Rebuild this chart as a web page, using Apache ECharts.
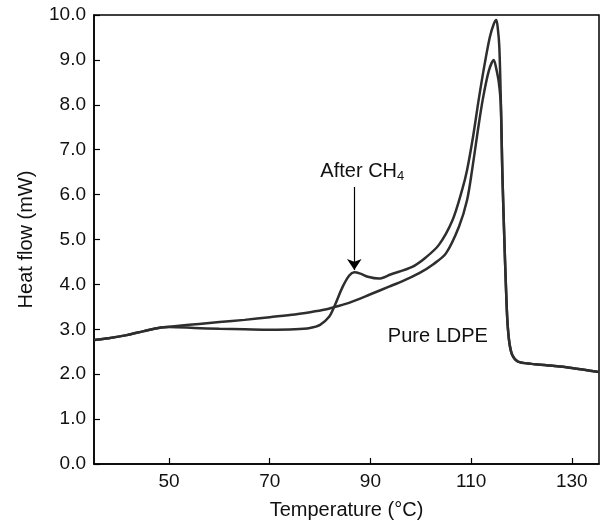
<!DOCTYPE html>
<html>
<head>
<meta charset="utf-8">
<script src="https://cdn.jsdelivr.net/npm/echarts@6/dist/echarts.min.js"></script>
<style>
html,body{margin:0;padding:0;background:#fff;}
#chart{width:605px;height:527px;}
</style>
</head>
<body>
<div id="chart"></div>
<script>
// Temperatures (°C) and heat flow (mW)
var tempPure = [35.1, 38, 41.6, 45, 48.4, 52, 56, 60, 65, 70, 75, 78, 81, 83, 86, 90, 93.7, 96.5, 99.7, 102.5, 105, 107.6, 109.2, 110.2, 111.3, 112.3, 113.5, 114.5, 115.0, 115.5, 115.9, 116.2, 116.6, 116.9, 117.2, 117.6, 118.2, 119.3, 122, 125, 130, 135.4];
var heatPure = [2.76, 2.8, 2.87, 2.96, 3.04, 3.08, 3.12, 3.16, 3.21, 3.27, 3.33, 3.38, 3.44, 3.5, 3.6, 3.78, 3.95, 4.08, 4.25, 4.45, 4.69, 5.29, 5.88, 6.55, 7.4, 8.11, 8.75, 9.0, 8.8, 8.5, 8.0, 6.5, 5.0, 4.0, 3.2, 2.7, 2.42, 2.28, 2.23, 2.2, 2.14, 2.05];

var tempAfter = [35.1, 38, 41.6, 45, 48.4, 50, 55, 60, 65, 70, 75, 78, 80, 81.8, 82.8, 84.5, 85.8, 86.8, 88, 89.5, 91.7, 94, 98.3, 101, 103.6, 106.3, 108.2, 109.2, 110.4, 111.5, 112.6, 113.7, 114.5, 115.0, 115.3, 115.6, 115.9, 116.2, 116.6, 116.9, 117.2, 117.6, 118.2, 119.3, 122, 125, 130, 135.4];
var heatAfter = [2.76, 2.8, 2.87, 2.96, 3.04, 3.05, 3.03, 3.01, 3.0, 2.99, 3.0, 3.03, 3.1, 3.28, 3.5, 3.95, 4.2, 4.27, 4.24, 4.17, 4.13, 4.22, 4.39, 4.6, 4.88, 5.43, 6.1, 6.55, 7.3, 8.11, 8.85, 9.5, 9.8, 9.89, 9.7, 9.3, 8.1, 6.5, 5.0, 4.0, 3.2, 2.7, 2.42, 2.28, 2.23, 2.2, 2.14, 2.05];

var xTicks = [50, 70, 90, 110, 130];
var xMin = 35.1, xMax = 135.4;
var yMin = 0, yMax = 10, yStep = 1;

var seriesNames = ['Pure LDPE', 'After CH4'];
var arrowTemp = 86.8, arrowFrom = 6.17, arrowTo = 4.32;
var pureLabelPos = [103.4, 2.83];

function pairs(xs, ys){ return xs.map(function(x,i){ return [x, ys[i]]; }); }

var FONT = "'Liberation Sans', Arial, sans-serif";
var lineColor = '#2e2e2e';

var chart = echarts.init(document.getElementById('chart'), null, {renderer:'canvas'});
chart.setOption({
  animation: false,
  backgroundColor: '#fff',
  textStyle: {fontFamily: FONT},
  grid: {left: 94, top: 15, right: 6, bottom: 63, show: true, borderColor: '#000', borderWidth: 1.5, backgroundColor: 'transparent'},
  xAxis: {
    type: 'value', min: xMin, max: xMax,
    name: 'Temperature (\u00b0C)', nameLocation: 'middle', nameGap: 36,
    nameTextStyle: {fontSize: 20, color: '#111', fontFamily: FONT},
    axisLine: {show: true, lineStyle: {color: '#000', width: 1.5}},
    axisTick: {show: true, inside: true, length: 6, customValues: xTicks, lineStyle: {color: '#000', width: 1.2}},
    axisLabel: {show: true, customValues: xTicks, fontSize: 19, color: '#111', margin: 8, fontFamily: FONT},
    splitLine: {show: false}
  },
  yAxis: {
    type: 'value', min: yMin, max: yMax, interval: yStep,
    name: 'Heat flow (mW)', nameLocation: 'middle', nameGap: 58, nameRotate: 90,
    nameTextStyle: {fontSize: 20, color: '#111', fontFamily: FONT},
    axisLine: {show: true, lineStyle: {color: '#000', width: 1.5}},
    axisTick: {show: true, inside: true, length: 6, lineStyle: {color: '#000', width: 1.2}},
    axisLabel: {show: true, fontSize: 19, color: '#111', margin: 8, fontFamily: FONT,
      formatter: function(v){ return v.toFixed(1); }},
    splitLine: {show: false}
  },
  series: [
    {
      name: seriesNames[0], type: 'line', data: pairs(tempPure, heatPure),
      showSymbol: false, smooth: 0.3, lineStyle: {color: lineColor, width: 2.5},
      markPoint: {
        silent: true, symbol: 'circle', symbolSize: 0,
        label: {show: true, position: 'inside', formatter: 'Pure LDPE', fontSize: 20, color: '#111', fontFamily: FONT},
        data: [{coord: pureLabelPos}]
      }
    },
    {
      name: seriesNames[1], type: 'line', data: pairs(tempAfter, heatAfter),
      showSymbol: false, smooth: 0.3, lineStyle: {color: lineColor, width: 2.5},
      markLine: {
        silent: true, symbol: ['none', 'arrow'], symbolSize: 11,
        itemStyle: {color: '#000'},
        lineStyle: {color: '#000', width: 1.2, type: 'solid'},
        label: {show: true, position: 'start', distance: 4, offset: [8, 0], color: '#111',
          formatter: '{a|After CH}{s|4}',
          rich: {a: {fontSize: 20, color: '#111', fontFamily: FONT},
                 s: {fontSize: 13, color: '#111', fontFamily: FONT, padding: [10, 0, 0, 0]}}},
        data: [[{coord: [arrowTemp, arrowFrom]}, {coord: [arrowTemp, arrowTo]}]]
      }
    }
  ]
});
</script>
</body>
</html>
